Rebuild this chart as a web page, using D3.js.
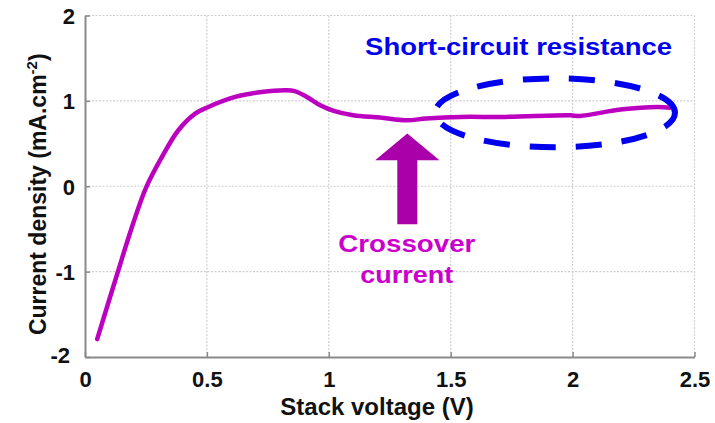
<!DOCTYPE html>
<html>
<head>
<meta charset="utf-8">
<script src="https://cdn.jsdelivr.net/npm/d3@7"></script>
<style>
  html, body { margin: 0; padding: 0; background: #fff; }
  svg { display: block; font-family: "Liberation Sans", Arial, sans-serif; }
</style>
</head>
<body>
<svg id="chart" width="715" height="423"></svg>
<script>
// Stack voltage (V) and measured current density (mA.cm^-2)
const voltage = [0.05, 0.135, 0.19, 0.25, 0.315, 0.383, 0.452, 0.506, 0.616, 0.725, 0.82, 0.86, 0.91, 0.965, 1.02, 1.10, 1.21, 1.32, 1.40, 1.54, 1.72, 1.99, 2.03, 2.196, 2.347, 2.40];
const current = [-1.79, -1.0, -0.50, -0.02, 0.34, 0.656, 0.851, 0.929, 1.046, 1.104, 1.124, 1.115, 1.046, 0.948, 0.882, 0.831, 0.804, 0.773, 0.793, 0.812, 0.812, 0.831, 0.823, 0.898, 0.929, 0.92];

const xTicks = [0, 0.5, 1, 1.5, 2, 2.5];
const yTicks = [-2, -1, 0, 1, 2];
const xTickLabels = ["0", "0.5", "1", "1.5", "2", "2.5"];
const yTickLabels = ["-2", "-1", "0", "1", "2"];

const svg = d3.select("#chart");
const margin = { left: 85, right: 20.5, top: 15.5, bottom: 66 };
const W = 715, H = 423;

const x = d3.scaleLinear().domain([0, 2.5]).range([margin.left, W - margin.right]);
const y = d3.scaleLinear().domain([-2, 2]).range([H - margin.bottom, margin.top]);

// dotted grid
const grid = svg.append("g");
grid.selectAll("line.vx").data(xTicks.slice(1)).join("line")
  .attr("x1", d => x(d)).attr("x2", d => x(d))
  .attr("y1", y(-2)).attr("y2", y(2))
  .attr("stroke", "#cfcfcf").attr("stroke-width", 1.2).attr("stroke-dasharray", "2 1.5");
grid.selectAll("line.hy").data(yTicks.slice(1)).join("line")
  .attr("x1", x(0)).attr("x2", x(2.5))
  .attr("y1", d => y(d)).attr("y2", d => y(d))
  .attr("stroke", "#cfcfcf").attr("stroke-width", 1.2).attr("stroke-dasharray", "2 1.5");

// axes
const xAxis = d3.axisBottom(x).tickValues(xTicks).tickSizeInner(-5).tickSizeOuter(0)
  .tickFormat((d, i) => xTickLabels[i]).tickPadding(9);
const yAxis = d3.axisLeft(y).tickValues(yTicks).tickSizeInner(-5).tickSizeOuter(0)
  .tickFormat((d, i) => yTickLabels[i]).tickPadding(9);

const gx = svg.append("g").attr("transform", `translate(0,${y(-2)})`).call(xAxis);
const gy = svg.append("g").attr("transform", `translate(${x(0)},0)`).call(yAxis);
[gx, gy].forEach(g => {
  g.select(".domain").attr("stroke", "#8a8a8a").attr("stroke-width", 2);
  g.selectAll(".tick line").attr("stroke", "#8a8a8a").attr("stroke-width", 1.5);
  g.selectAll(".tick text").attr("fill", "#111").attr("font-size", 22).attr("font-weight", "bold")
    .attr("font-family", "'Liberation Sans', Arial, sans-serif");
});
gx.selectAll(".tick text").attr("dy", "0.95em");
gy.selectAll(".tick text").attr("dx", "-1").attr("dy", "0.36em");
// "-2" sits slightly lower so it clears the x-axis "0"
gy.selectAll(".tick").filter(d => d === -2).select("text").attr("dy", "0.25em").attr("dx", "-6");

// axis titles
svg.append("text")
  .attr("x", 377).attr("y", 415)
  .attr("text-anchor", "middle")
  .attr("font-size", 24).attr("font-weight", "bold").attr("fill", "#111")
  .text("Stack voltage (V)");

const yt = svg.append("text")
  .attr("transform", `translate(46,${(y(-2) + y(2)) / 2 + 8}) rotate(-90)`)
  .attr("text-anchor", "middle")
  .attr("font-size", 23).attr("font-weight", "bold").attr("fill", "#111");
yt.append("tspan").text("Current density (mA.cm");
yt.append("tspan").attr("dy", -9).attr("font-size", 15).text("-2");
yt.append("tspan").attr("dy", 9).text(")");

// J–V curve
const pts = voltage.map((v, i) => [v, current[i]]);
svg.append("path")
  .datum(pts)
  .attr("fill", "none")
  .attr("stroke", "#bb00c0")
  .attr("stroke-width", 4.5)
  .attr("stroke-linecap", "round")
  .attr("stroke-linejoin", "round")
  .attr("d", d3.line().x(d => x(d[0])).y(d => y(d[1])).curve(d3.curveCatmullRom.alpha(0.5)));

// dashed ellipse around the high-voltage plateau
const ell = { cx: 1.928, cy: 0.86, rx: 0.492, ry: 0.404 };
svg.append("ellipse")
  .attr("cx", x(ell.cx)).attr("cy", y(ell.cy))
  .attr("rx", x(ell.rx) - x(0)).attr("ry", y(0) - y(ell.ry))
  .attr("fill", "none").attr("stroke", "#0000ee")
  .attr("stroke-width", 6)
  .attr("stroke-dasharray", "26 20")
  .attr("stroke-dashoffset", 8);

svg.append("text")
  .attr("x", x(1.149)).attr("y", y(1.534))
  .attr("font-size", 23).attr("font-weight", "bold").attr("fill", "#0000ee")
  .attr("textLength", 307).attr("lengthAdjust", "spacingAndGlyphs")
  .text("Short-circuit resistance");

// arrow pointing at the crossover current minimum
const arrow = { x: 1.322, tip: 0.619, headBase: 0.304, tail: -0.445, headHalf: 0.132, shaftHalf: 0.041 };
const ap = [
  [arrow.x, arrow.tip],
  [arrow.x + arrow.headHalf, arrow.headBase],
  [arrow.x + arrow.shaftHalf, arrow.headBase],
  [arrow.x + arrow.shaftHalf, arrow.tail],
  [arrow.x - arrow.shaftHalf, arrow.tail],
  [arrow.x - arrow.shaftHalf, arrow.headBase],
  [arrow.x - arrow.headHalf, arrow.headBase]
];
svg.append("path")
  .attr("d", d3.line().x(d => x(d[0])).y(d => y(d[1]))(ap) + "Z")
  .attr("fill", "#aa00aa");

const lab = svg.append("g").attr("font-size", 23).attr("font-weight", "bold")
  .attr("fill", "#cc00cc").attr("text-anchor", "middle");
lab.append("text").attr("x", x(1.32)).attr("y", y(-0.773))
  .attr("textLength", 137).attr("lengthAdjust", "spacingAndGlyphs").text("Crossover");
lab.append("text").attr("x", x(1.32)).attr("y", y(-1.136))
  .attr("textLength", 93).attr("lengthAdjust", "spacingAndGlyphs").text("current");
</script>
</body>
</html>
